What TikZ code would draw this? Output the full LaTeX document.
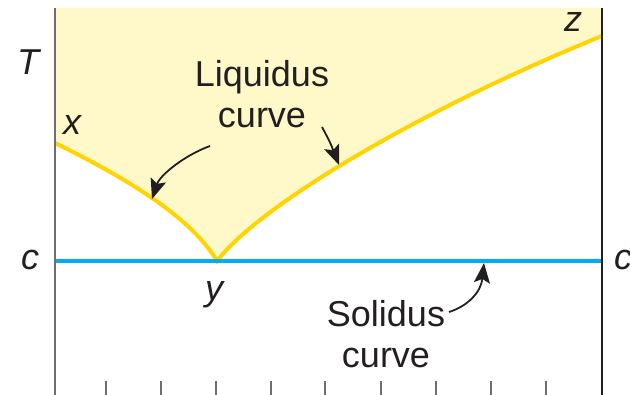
\documentclass[tikz,border=0pt]{standalone}
\usepackage{fontspec}
\setmainfont{Liberation Sans}
\usetikzlibrary{arrows.meta}
\definecolor{liqfill}{HTML}{FFF8C8}
\definecolor{liqline}{HTML}{FFD400}
\definecolor{solline}{HTML}{00AEEF}
\definecolor{ink}{HTML}{231F20}
\definecolor{axisgray}{HTML}{6D6E71}
\tikzset{
  lbl/.style={inner sep=0pt, anchor=base, font=\fontsize{36}{41}\selectfont, text=ink},
  varlbl/.style={lbl, font=\fontsize{36}{41}\selectfont\itshape},
  axisline/.style={line width=1.5pt},
  tickline/.style={line width=1.6pt, draw=axisgray},
  pointer/.style={line width=1.8pt, draw=ink, -{Stealth[length=20pt,width=16pt,inset=4pt]}},
}
\begin{document}
\begin{tikzpicture}[x=1pt,y=-1pt]
\useasboundingbox (0,0) rectangle (630,395);
% points
\coordinate (top L) at (55,8);
\coordinate (top R) at (602,8);
\coordinate (X) at (55,143);
\coordinate (Y) at (217,261);
\coordinate (Z) at (602,36);
\coordinate (cL) at (55,261);
\coordinate (cR) at (602,261);
\coordinate (bot L) at (55,395);
\coordinate (bot R) at (602,395);
% liquid region
\fill[liqfill] (top L) -- (X) .. controls (120,175) and (190,215) .. (Y)
   .. controls (260,205) and (420,110) .. (Z) -- (top R) -- cycle;
% liquidus
\draw[liqline, line width=4pt, line join=miter]
   (X) .. controls (120,175) and (190,215) .. (Y)
   .. controls (260,205) and (420,110) .. (Z);
% solidus
\draw[solline, line width=4pt] (cL) -- (cR);
% axes
\draw[axisline, draw=axisgray] (top L) -- (bot L);
\draw[axisline, draw=ink] (top R) -- (bot R);
% ticks
\foreach \tx in {106,161,216,271,325,381,436,491,546}
  \draw[tickline] (\tx,381) -- (\tx,395);
% labels
\node[varlbl] (T) at (28,75) {T};
\node[varlbl] (xl) at (72,135) {x};
\node[varlbl] (zl) at (573,32) {z};
\node[varlbl] (yl) at (214,301) {y};
\node[varlbl] (cl) at (30,270) {c};
\node[varlbl, anchor=base west] (cr) at (614,270) {c};
\node[lbl] (liq1) at (262,87) {Liquidus};
\node[lbl] (liq2) at (262,128) {curve};
\node[lbl] (sol1) at (386,327) {Solidus};
\node[lbl] (sol2) at (386,368) {curve};
% pointers
\coordinate (pa1) at (210,146);
\coordinate (pa2) at (152,199);
\coordinate (pb1) at (322,127);
\coordinate (pb2) at (339,165);
\coordinate (pc1) at (449,312);
\coordinate (pc2) at (484,263);
\draw[pointer] (pa1) .. controls (185,155) and (160,175) .. (pa2);
\draw[pointer] (pb1) .. controls (330,142) .. (pb2);
\draw[pointer] (pc1) .. controls (468,306) and (481,292) .. (pc2);
\end{tikzpicture}
\end{document}
